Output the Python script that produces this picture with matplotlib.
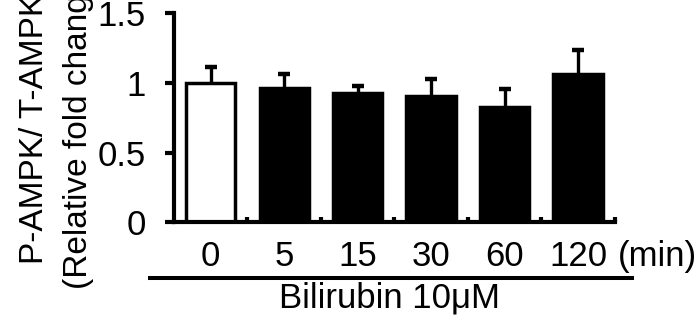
import matplotlib
matplotlib.use("Agg")
import matplotlib.pyplot as plt
import numpy as np

plt.rcParams['font.family'] = ['Liberation Sans', 'DejaVu Sans']

categories = ["0", "5", "15", "30", "60", "120"]
values = [1.0, 0.966, 0.927, 0.906, 0.828, 1.066]
errors = [0.115, 0.098, 0.048, 0.119, 0.128, 0.168]
face_colors = ["white", "black", "black", "black", "black", "black"]
yticks = [0, 0.5, 1, 1.5]
ytick_labels = ["0", "0.5", "1", "1.5"]

FS = 25
YFS = 24
W, H = 698, 327
fig = plt.figure(figsize=(W / 100, H / 100), dpi=100)
ax = fig.add_axes([174 / W, 1 - 222.3 / H, (614.7 - 174) / W, (222.3 - 13) / H])

x = np.arange(len(categories))
ax.bar(x, values, width=0.67, color=face_colors, edgecolor="black", linewidth=2.5, zorder=2)
eb = ax.errorbar(x, values, yerr=[np.zeros(len(values)), errors], fmt="none",
                 ecolor="black", elinewidth=2.4, capsize=4.3, capthick=3.2, zorder=1)
eb[1][0].set_visible(False)

ax.set_xlim(-0.5, 5.5)
ax.set_ylim(0, 1.5)
ax.set_yticks(yticks)
ax.set_yticklabels(ytick_labels)
ax.set_xticks(x)
ax.set_xticklabels(categories)
ax.set_xticks(np.arange(0.5, 6, 1), minor=True)

for s in ["top", "right"]:
    ax.spines[s].set_visible(False)
for s in ["left", "bottom"]:
    ax.spines[s].set_linewidth(3)
    ax.spines[s].set_capstyle("projecting")

ax.tick_params(axis="y", direction="out", length=6.5, width=3, pad=14, labelsize=FS)
ax.tick_params(axis="x", which="major", length=0, pad=13, labelsize=FS)
ax.tick_params(axis="x", which="minor", direction="in", length=3.5, width=3)

# y-axis label (two rotated lines, partly running off the top like the original)
fig.text(43 / W, 1 - 264.5 / H, "P-AMPK/ T-AMPK", rotation=90, rotation_mode="anchor",
         ha="left", va="baseline", fontsize=YFS)
fig.text(87 / W, 1 - 289 / H, "(Relative fold change)", rotation=90, rotation_mode="anchor",
         ha="left", va="baseline", fontsize=YFS)

# unit label
fig.text(618 / W, 1 - 266 / H, "(min)", ha="left", va="baseline", fontsize=FS)

# treatment bar and label
fig.add_artist(plt.Line2D([150 / W, 632 / W], [1 - 278 / H, 1 - 278 / H],
                          transform=fig.transFigure, color="black", linewidth=2.9))
fig.text(389.5 / W, 1 - 308 / H, "Bilirubin 10\u03bcM", ha="center", va="baseline", fontsize=FS)

fig.savefig("out.png", dpi=100)
